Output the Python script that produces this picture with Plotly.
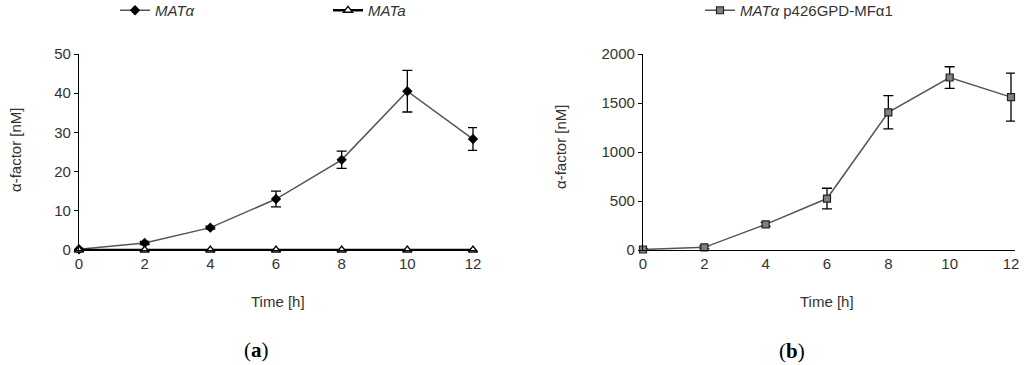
import plotly.graph_objects as go

time_h = [0, 2, 4, 6, 8, 10, 12]
mat_alpha = [0.2, 1.8, 5.7, 13.0, 23.0, 40.5, 28.3]
mat_alpha_err = [0.2, 0.4, 0.4, 2.0, 2.2, 5.3, 2.9]
mat_a = [0, 0, 0, 0, 0, 0, 0]
p426 = [5, 27, 262, 525, 1405, 1760, 1560]
p426_err = [5, 15, 20, 105, 170, 110, 245]

FONT = "Liberation Sans, Arial, sans-serif"
W, H = 1024, 365

fig = go.Figure()

fig.add_trace(go.Scatter(
    x=time_h, y=mat_alpha, name="<i>MATα</i>", mode="lines+markers",
    line=dict(color="#555555", width=1.5),
    marker=dict(symbol="diamond", size=8, color="black"),
    error_y=dict(type="data", array=mat_alpha_err, color="black", thickness=1.3, width=5),
    xaxis="x", yaxis="y", legend="legend", cliponaxis=False))
fig.add_trace(go.Scatter(
    x=time_h, y=mat_a, name="<i>MATa</i>", mode="lines+markers",
    line=dict(color="black", width=2.5),
    marker=dict(symbol="triangle-up", size=8, color="white", line=dict(color="black", width=1.3)),
    xaxis="x", yaxis="y", legend="legend", cliponaxis=False))
fig.add_trace(go.Scatter(
    x=time_h, y=p426, name="<i>MATα</i> p426GPD-MFα1", mode="lines+markers",
    line=dict(color="#555555", width=1.5),
    marker=dict(symbol="square", size=7, color="#808080", line=dict(color="#222222", width=1.2)),
    error_y=dict(type="data", array=p426_err, color="black", thickness=1.3, width=5),
    xaxis="x2", yaxis="y2", legend="legend2", cliponaxis=False))

def xd(a, b):
    return [a / W, b / W]

ydom = [1 - 250 / H, 1 - 54 / H]
tickfont = dict(family=FONT, size=15, color="#333333")
titlefont = dict(family=FONT, size=15, color="#333333")

common_x = dict(showgrid=False, zeroline=False, showline=True, linecolor="black", linewidth=1.2,
                ticks="", tickvals=time_h, tickfont=tickfont, automargin=False)
common_y = dict(showgrid=False, zeroline=False, showline=True, linecolor="black", linewidth=1.2,
                ticks="outside", ticklen=4, tickcolor="black", tickfont=tickfont, automargin=False)

def ann(text, x, y, font, **kw):
    return dict(text=text, x=x / W, y=1 - y / H, xref="paper", yref="paper",
                xanchor="center", yanchor="middle", showarrow=False, font=font, **kw)

fig.update_layout(
    width=W, height=H, margin=dict(l=0, r=0, t=0, b=0, autoexpand=False),
    paper_bgcolor="white", plot_bgcolor="white",
    xaxis=dict(domain=xd(79, 477), range=[0, 12 * 398 / 394], anchor="y", **common_x),
    yaxis=dict(domain=ydom, range=[0, 50], dtick=10, anchor="x", **common_y),
    xaxis2=dict(domain=xd(643, 1015), range=[0, 12 * 372 / 368], anchor="y2", **common_x),
    yaxis2=dict(domain=ydom, range=[0, 2000], dtick=500, anchor="x2", **common_y),
    legend=dict(orientation="h", x=115 / W, y=1 + 6 / H, xanchor="left", yanchor="top",
                font=dict(family=FONT, size=15, color="#333333"), entrywidth=168, entrywidthmode="pixels",
                bgcolor="rgba(0,0,0,0)"),
    legend2=dict(orientation="h", x=700 / W, y=1 + 6 / H, xanchor="left", yanchor="top",
                 font=dict(family=FONT, size=15, color="#333333"),
                 bgcolor="rgba(0,0,0,0)"),
    showlegend=True,
    annotations=[
        ann("α-factor [nM]", 15, 150, titlefont, textangle=-90),
        ann("α-factor [nM]", 560, 147, titlefont, textangle=-90),
        ann("Time [h]", 278, 301, titlefont),
        ann("Time [h]", 827, 301, titlefont),
        ann("(<b>a</b>)", 256, 350, dict(family="Liberation Serif, serif", size=21, color="black")),
        ann("(<b>b</b>)", 792, 351, dict(family="Liberation Serif, serif", size=21, color="black")),
    ],
)

fig.write_html("out.html", config={"displayModeBar": False},
               post_script="document.body.style.margin='0px';document.body.style.overflow='hidden';")
